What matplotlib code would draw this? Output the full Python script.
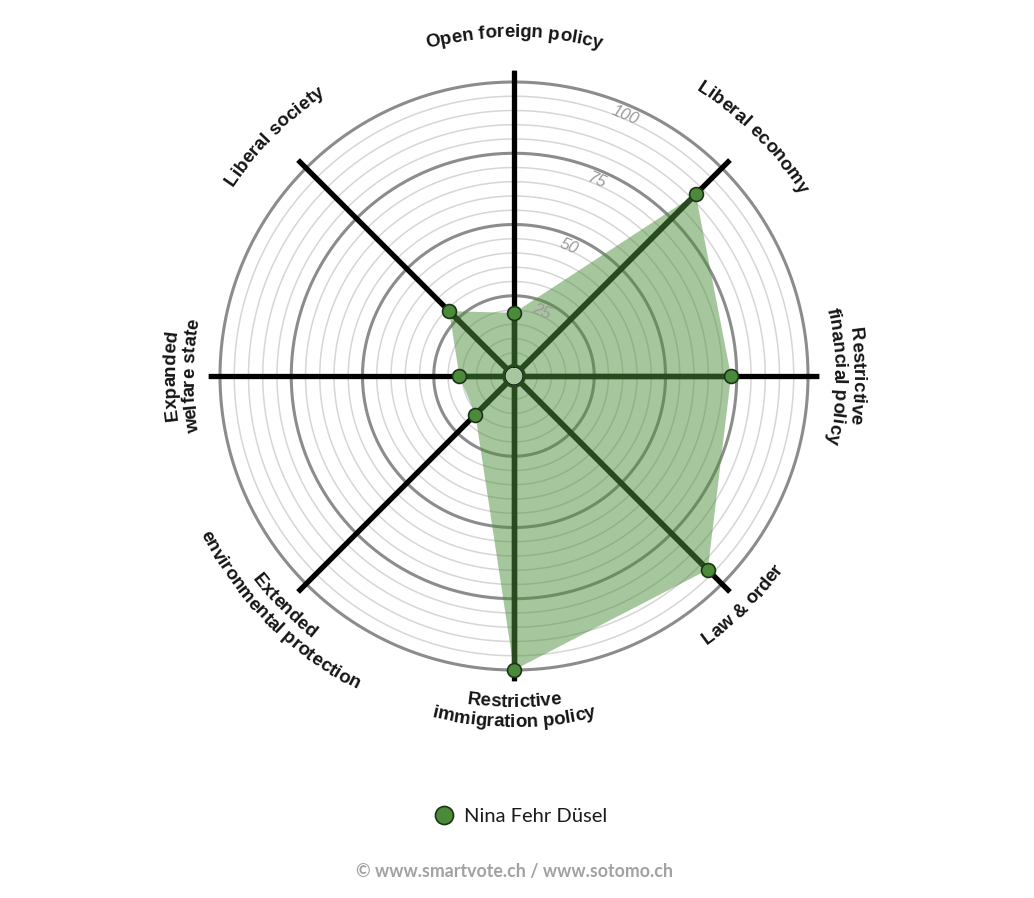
import numpy as np
import matplotlib
matplotlib.use('Agg')
import matplotlib.pyplot as plt
from matplotlib.font_manager import FontProperties
from matplotlib.lines import Line2D

# data
axis_labels = [["Open foreign policy"],
               ["Liberal economy"],
               ["Restrictive", "financial policy"],
               ["Law & order"],
               ["Restrictive", "immigration policy"],
               ["Extended", "environmental protection"],
               ["Expanded", "welfare state"],
               ["Liberal society"]]
values = [19, 87, 73, 93, 100, 16, 16, 29]
candidate = "Nina Fehr Düsel"
ring_ticks = [25, 50, 75, 100]
minor_rings = list(range(5, 101, 5))
footer = "© www.smartvote.ch / www.sotomo.ch"

# layout (pixels)
W, H = 1034, 898
CX, CY = 514, 376
PX_PER_UNIT = 2.85
R0_PX = 9.0
RMAX = 104

def px2r(px):
    return (px - R0_PX) / PX_PER_UNIT

dark_green = '#274a1f'
mid_green = '#4b8a3b'
fill_green = '#4f8f3c'

fig = plt.figure(figsize=(W / 100, H / 100), dpi=100)
rad_px = (RMAX + R0_PX / PX_PER_UNIT) * PX_PER_UNIT
ax = fig.add_axes([(CX - rad_px) / W, (H - CY - rad_px) / H, 2 * rad_px / W, 2 * rad_px / H],
                  projection='polar')
ax.set_theta_zero_location('N')
ax.set_theta_direction(-1)
ax.set_ylim(0, RMAX)
ax.set_rorigin(-R0_PX / PX_PER_UNIT)
ax.set_xticks([])
ax.set_yticks([])
ax.grid(False)
ax.spines['polar'].set_visible(False)

n = len(values)
angles = np.deg2rad(np.arange(n) * 360.0 / n)
tc = np.linspace(0, 2 * np.pi, 500)

# rings
for v in minor_rings:
    if v in ring_ticks:
        ax.plot(tc, np.full_like(tc, v), color='#8c8c8c', lw=2.2, zorder=1)
    else:
        ax.plot(tc, np.full_like(tc, v), color='#d6d6d6', lw=1.1, zorder=1)

# filled area (not clipped, so the hole in the middle gets filled too)
ax.fill(np.append(angles, angles[0]), values + values[:1], color=fill_green, alpha=0.5,
        lw=0, zorder=2, clip_on=False)

# axis lines
for a in angles:
    ax.plot([a, a], [0, RMAX], color='black', lw=3.8, solid_capstyle='round', zorder=3)
for a, v in zip(angles, values):
    ax.plot([a, a], [0, v], color=dark_green, lw=3.8, solid_capstyle='butt', zorder=4)

# center ring
ax.plot(tc, np.zeros_like(tc), color=dark_green, lw=4.1, zorder=5)

# points
ax.plot(angles, values, 'o', ms=10, mfc=mid_green, mec='#1c3416', mew=1.2, ls='none', zorder=6)

# scale labels
for v in ring_ticks:
    ax.text(np.deg2rad(23), v - 3.6, str(v), rotation=-23, ha='center', va='center',
            fontsize=12, style='italic', color='#9a9a9a', family='Liberation Sans', zorder=7)

# curved axis labels
fig.canvas.draw()
renderer = fig.canvas.get_renderer()
fp = FontProperties(family='Liberation Sans', weight='bold', size=13.5)

def tw(s):
    return renderer.get_text_width_height_descent(s, fp, ismath=False)[0]

for lines, a0 in zip(axis_labels, np.degrees(angles)):
    top = a0 <= 90 or a0 >= 270
    for k, line in enumerate(lines):
        r_px = 339 - 19 * k if top else 331 + 20 * k
        total = tw(line)
        for i, ch in enumerate(line):
            if ch == ' ':
                continue
            off = tw(line[:i + 1]) - tw(ch) / 2 - total / 2
            if top:
                a = a0 + np.degrees(off / r_px)
                rot = -a
            else:
                a = a0 - np.degrees(off / r_px)
                rot = 180 - a
            ax.text(np.deg2rad(a), px2r(r_px), ch, fontproperties=fp, rotation=rot,
                    rotation_mode='anchor', ha='center', va='baseline', color='#151515')

# legend
handle = Line2D([], [], marker='o', ls='none', ms=13, mfc=mid_green, mec='#1c3416', mew=1.2)
fig.legend([handle], [candidate], loc='center', bbox_to_anchor=(518 / W, 1 - 816 / H),
           frameon=False, handletextpad=0.2, handlelength=1.6,
           prop={'family': 'Lato', 'size': 14.5})
for t in fig.legends[0].get_texts():
    t.set_color('#1a1a1a')

fig.text(514 / W, 1 - 871 / H, footer, ha='center', va='center', fontsize=12.8,
         family='Lato', weight='bold', color='#a2a2a2')

fig.savefig('out.png', dpi=100)
